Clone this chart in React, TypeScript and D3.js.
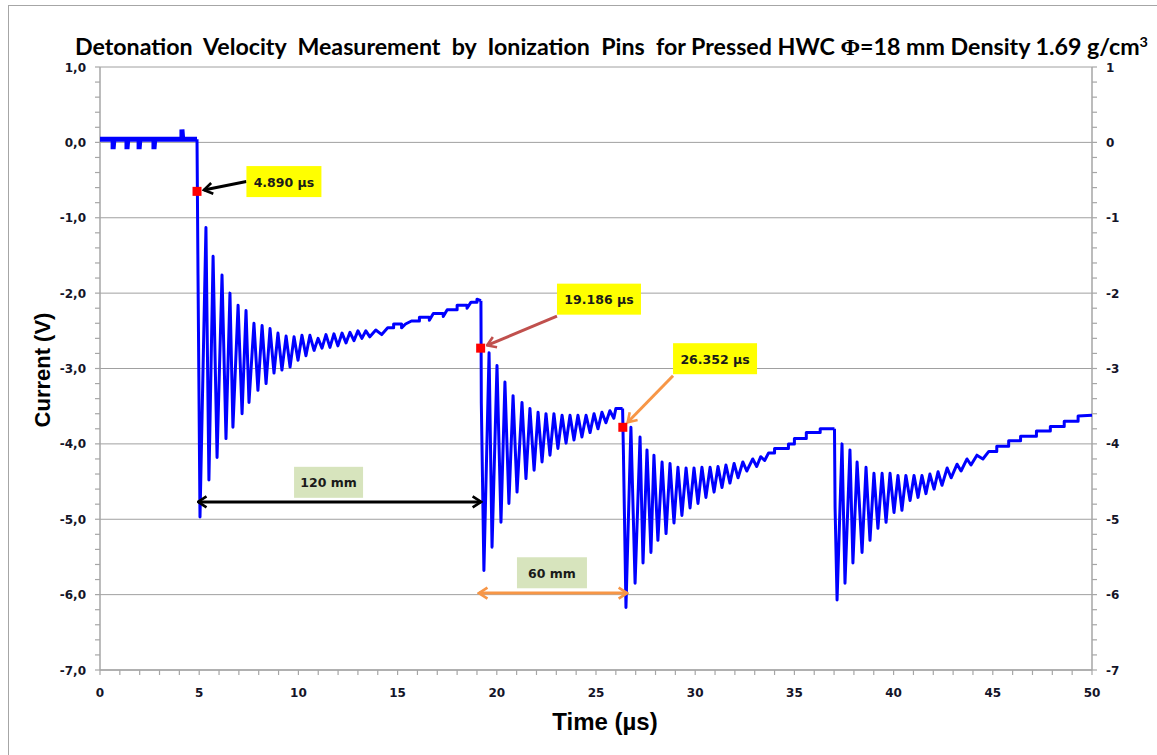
import React from "react";
import * as d3 from "d3";

// ---------- data ----------
const xTickValues = [0, 5, 10, 15, 20, 25, 30, 35, 40, 45, 50];
const yTickValues = [1, 0, -1, -2, -3, -4, -5, -6, -7];
const yTickLabelsLeft = ["1,0", "0,0", "-1,0", "-2,0", "-3,0", "-4,0", "-5,0", "-6,0", "-7,0"];
const yTickLabelsRight = ["1", "0", "-1", "-2", "-3", "-4", "-5", "-6", "-7"];

// [time (µs), current (V)]
const baseline: [number, number][] = [
  [0, 0.04], [0.66, 0.04], [0.66, -0.09], [0.7, 0.04], [1.36, 0.04], [1.36, -0.09], [1.4, 0.04],
  [1.97, 0.04], [1.97, -0.09], [2.01, 0.04], [2.72, 0.04], [2.72, -0.09], [2.76, 0.04],
  [4.13, 0.04], [4.13, 0.17], [4.17, 0.04], [4.89, 0.04],
];

const pulse1: [number, number][] = [
  [4.89, 0.04], [4.94, -1.76], [5.04, -4.97], [5.34, -1.13], [5.49, -4.48], [5.7, -1.51], [5.9, -4.18],
  [6.15, -1.76], [6.35, -3.93], [6.55, -2.0], [6.7, -3.78], [6.96, -2.16], [7.16, -3.6], [7.36, -2.23],
  [7.51, -3.45], [7.76, -2.4], [7.96, -3.29], [8.17, -2.43], [8.37, -3.2], [8.57, -2.47], [8.77, -3.06],
  [8.97, -2.53], [9.17, -3.02], [9.38, -2.57], [9.58, -2.98], [9.78, -2.58], [9.98, -2.89], [10.18, -2.56],
  [10.38, -2.83], [10.58, -2.56], [10.79, -2.76], [10.99, -2.6], [11.19, -2.73], [11.39, -2.55],
  [11.59, -2.72], [11.79, -2.54], [11.99, -2.7], [12.2, -2.53], [12.4, -2.66], [12.6, -2.52],
  [12.8, -2.63], [13.0, -2.5], [13.2, -2.6], [13.4, -2.5], [13.6, -2.58], [13.9, -2.49], [14.2, -2.55],
  [14.5, -2.46], [14.8, -2.46], [14.8, -2.41], [15.2, -2.41], [15.2, -2.46], [15.4, -2.41], [15.7, -2.37],
  [16.1, -2.37], [16.1, -2.32], [16.6, -2.32], [16.6, -2.36], [16.8, -2.27], [17.3, -2.27], [17.3, -2.31],
  [17.5, -2.22], [18.0, -2.22], [18.0, -2.16], [18.5, -2.16], [18.5, -2.2], [18.7, -2.12], [19.0, -2.12],
  [19.0, -2.08], [19.2, -2.1],
];

const pulse2: [number, number][] = [
  [19.2, -2.1], [19.22, -3.46], [19.35, -5.68], [19.61, -2.79], [19.76, -5.37], [20.01, -2.96],
  [20.21, -5.04], [20.41, -3.18], [20.61, -4.79], [20.82, -3.36], [21.02, -4.64], [21.27, -3.45],
  [21.47, -4.46], [21.67, -3.53], [21.88, -4.35], [22.08, -3.58], [22.28, -4.24], [22.48, -3.6],
  [22.68, -4.15], [22.88, -3.6], [23.08, -4.06], [23.29, -3.62], [23.49, -3.99], [23.69, -3.62],
  [23.89, -3.95], [24.09, -3.62], [24.29, -3.91], [24.5, -3.62], [24.7, -3.85], [24.9, -3.6],
  [25.1, -3.8], [25.3, -3.58], [25.5, -3.72], [25.7, -3.56], [25.9, -3.66], [26.0, -3.53], [26.34, -3.53],
];

const pulse3: [number, number][] = [
  [26.34, -3.53], [26.38, -4.08], [26.51, -6.17], [26.76, -3.78], [26.97, -5.85], [27.22, -3.91],
  [27.37, -5.58], [27.57, -4.08], [27.77, -5.44], [27.92, -4.15], [28.12, -5.28], [28.33, -4.24],
  [28.53, -5.19], [28.73, -4.26], [28.93, -5.05], [29.13, -4.31], [29.33, -4.95], [29.54, -4.32],
  [29.74, -4.85], [29.94, -4.32], [30.14, -4.79], [30.34, -4.31], [30.54, -4.71], [30.75, -4.31],
  [30.95, -4.64], [31.15, -4.3], [31.35, -4.58], [31.55, -4.28], [31.75, -4.52], [31.96, -4.26],
  [32.16, -4.45], [32.4, -4.24], [32.6, -4.36], [32.9, -4.2], [33.1, -4.3], [33.3, -4.17], [33.5, -4.22],
  [33.7, -4.12], [34.0, -4.12], [34.0, -4.06], [34.7, -4.06], [34.7, -4.0], [35.0, -4.0], [35.0, -3.93],
  [35.6, -3.93], [35.6, -3.85], [36.3, -3.85], [36.3, -3.8], [37.02, -3.8],
];

const pulse4: [number, number][] = [
  [37.02, -3.8], [37.05, -4.84], [37.15, -6.07], [37.4, -4.0], [37.55, -5.85], [37.8, -4.08],
  [37.95, -5.58], [38.16, -4.24], [38.41, -5.44], [38.61, -4.31], [38.81, -5.28], [39.01, -4.39],
  [39.21, -5.12], [39.42, -4.39], [39.62, -5.04], [39.82, -4.39], [40.02, -4.91], [40.22, -4.42],
  [40.42, -4.88], [40.62, -4.42], [40.83, -4.75], [41.03, -4.42], [41.23, -4.71], [41.43, -4.42],
  [41.63, -4.66], [41.83, -4.4], [42.04, -4.6], [42.24, -4.37], [42.44, -4.55], [42.7, -4.32],
  [42.9, -4.45], [43.2, -4.27], [43.4, -4.36], [43.7, -4.2], [43.9, -4.28], [44.2, -4.15], [44.5, -4.2],
  [44.8, -4.1], [45.2, -4.1], [45.2, -4.03], [45.8, -4.03], [45.8, -3.96], [46.4, -3.96], [46.4, -3.9],
  [47.2, -3.9], [47.2, -3.83], [47.9, -3.83], [47.9, -3.77], [48.6, -3.77], [48.6, -3.7], [49.3, -3.7],
  [49.3, -3.63], [50, -3.62],
];

const markerTimes = [4.89, 19.186, 26.352];
const markerValues = [-0.65, -2.73, -3.78];
const markerLabels = ["4.890 µs", "19.186 µs", "26.352 µs"];
const labelTimes = [9.27, 25.15, 31.0];
const labelValues = [-0.52, -2.08, -2.87];

const distLabels = ["120 mm", "60 mm"];
const distFrom = [4.94, 19.1];
const distTo = [19.21, 26.57];
const distValues = [-4.77, -5.98];
const distLabelTimes = [11.52, 22.78];
const distLabelValues = [-4.51, -5.71];

// ---------- styles ----------
const W = 1157;
const H = 755;
const plot = { left: 100, right: 1092, top: 67, bottom: 670 };
const calloutColors = ["#000000", "#c0504d", "#f79646"];
const calloutBoxW = [75, 84, 84];
const calloutAnchorFy = [0.5, 1.05, 1.05];
const distColors = ["#000000", "#f79646"];
const distBoxW = [69, 70];
const boxH = 31;
const gridColor = "#a0a0a0";
const axisColor = "#a6a6a6";
const textColor = "#141428";
const tickFont = "'DejaVu Sans', Verdana, sans-serif";

export default function App() {
  const x = d3.scaleLinear().domain([0, 50]).range([plot.left, plot.right]);
  const y = d3.scaleLinear().domain([-7, 1]).range([plot.bottom, plot.top]);
  const line = d3
    .line<[number, number]>()
    .x((d) => x(d[0]))
    .y((d) => y(d[1]));

  const yMinor = d3.range(-7, 1.0001, 0.2);
  const xMinor = d3.range(0, 50.0001, 1);

  const markerIds = ["ah0", "ah1", "ah2"];
  const colorsAll = ["#000000", "#c0504d", "#f79646"];

  return (
    <svg
      width={W}
      height={H}
      style={{ position: "absolute", left: 0, top: 0, background: "#fff" }}
    >
      <defs>
        {colorsAll.map((c, i) => (
          <marker
            key={i}
            id={markerIds[i]}
            viewBox="0 0 12 14"
            refX={10.5}
            refY={7}
            markerWidth={12}
            markerHeight={14}
            markerUnits="userSpaceOnUse"
            orient="auto-start-reverse"
          >
            <path d="M2,1.5 L10.5,7 L2,12.5" fill="none" stroke={c} strokeWidth={2.6} />
          </marker>
        ))}
      </defs>
      <rect x={8.5} y={5.5} width={1200} height={800} fill="#fff" stroke="#a6a6a6" strokeWidth={1} />

      {/* title */}
      <text
        x={611.5}
        y={55}
        textAnchor="middle"
        xmlSpace="preserve"
        textLength={1073}
        lengthAdjust="spacingAndGlyphs"
        style={{ whiteSpace: "pre", fontFamily: "Lato, 'Open Sans', sans-serif", fontWeight: 700, fontSize: 22.5, fill: "#000" }}
      >
        {"Detonation  Velocity  Measurement  by  Ionization  Pins  for Pressed HWC "}
        <tspan style={{ fontFamily: "'Liberation Serif', 'DejaVu Serif', serif", fontWeight: 700, fontSize: 23 }}>Φ</tspan>
        {"=18 mm Density 1.69 g/cm"}
        <tspan dy={-8} style={{ fontSize: 14 }}>3</tspan>
      </text>

      {/* gridlines */}
      {yTickValues.map((v) => (
        <line key={"g" + v} x1={plot.left} x2={plot.right} y1={y(v)} y2={y(v)} stroke={gridColor} strokeWidth={1} />
      ))}

      {/* axes */}
      <line x1={plot.left} x2={plot.left} y1={plot.top} y2={plot.bottom} stroke={axisColor} strokeWidth={1.5} />
      <line x1={plot.right} x2={plot.right} y1={plot.top} y2={plot.bottom} stroke={axisColor} strokeWidth={1.5} />
      <line x1={plot.left} x2={plot.right} y1={plot.bottom} y2={plot.bottom} stroke={axisColor} strokeWidth={1.5} />
      {yMinor.map((v, i) => (
        <g key={"ym" + i}>
          <line x1={plot.left - 5} x2={plot.left} y1={y(v)} y2={y(v)} stroke={axisColor} strokeWidth={1.2} />
          <line x1={plot.right} x2={plot.right + 5} y1={y(v)} y2={y(v)} stroke={axisColor} strokeWidth={1.2} />
        </g>
      ))}
      {xMinor.map((t, i) => (
        <line key={"xm" + i} x1={x(t)} x2={x(t)} y1={plot.bottom} y2={plot.bottom + 5} stroke={axisColor} strokeWidth={1.2} />
      ))}

      {/* tick labels */}
      {yTickValues.map((v, i) => (
        <text key={"yl" + i} x={86} y={y(v) + 4.5} textAnchor="end"
          style={{ fontFamily: tickFont, fontWeight: 700, fontSize: 12, fill: textColor }}>
          {yTickLabelsLeft[i]}
        </text>
      ))}
      {yTickValues.map((v, i) => (
        <text key={"yr" + i} x={1106} y={y(v) + 4.5} textAnchor="start"
          style={{ fontFamily: tickFont, fontWeight: 700, fontSize: 12, fill: textColor }}>
          {yTickLabelsRight[i]}
        </text>
      ))}
      {xTickValues.map((t) => (
        <text key={"xl" + t} x={x(t)} y={697} textAnchor="middle"
          style={{ fontFamily: tickFont, fontWeight: 700, fontSize: 12, fill: textColor }}>
          {String(t)}
        </text>
      ))}

      {/* axis titles */}
      <text transform="translate(50,370) rotate(-90)" textAnchor="middle"
        style={{ fontFamily: "'Liberation Sans', Arial, sans-serif", fontWeight: 700, fontSize: 22, fill: "#000" }}>
        Current (V)
      </text>
      <text x={605} y={730} textAnchor="middle"
        style={{ fontFamily: "'Liberation Sans', Arial, sans-serif", fontWeight: 700, fontSize: 24, fill: "#000" }}>
        Time (µs)
      </text>

      {/* signal */}
      <path d={line(baseline) || ""} fill="none" stroke="#0000ff" strokeWidth={5} strokeLinejoin="miter" />
      {[pulse1, pulse2, pulse3, pulse4].map((p, i) => (
        <path key={"p" + i} d={line(p) || ""} fill="none" stroke="#0000ff" strokeWidth={3} strokeLinejoin="round" />
      ))}

      {/* distance arrows */}
      {distLabels.map((lab, i) => {
        const cx = x(distLabelTimes[i]);
        const cy = y(distLabelValues[i]);
        const w = distBoxW[i];
        return (
          <g key={"d" + i}>
            <line
              x1={x(distFrom[i])}
              x2={x(distTo[i])}
              y1={y(distValues[i])}
              y2={y(distValues[i])}
              stroke={distColors[i]}
              strokeWidth={3}
              markerStart={`url(#${markerIds[i === 0 ? 0 : 2]})`}
              markerEnd={`url(#${markerIds[i === 0 ? 0 : 2]})`}
            />
            <rect x={cx - w / 2} y={cy - boxH / 2} width={w} height={boxH} fill="#d7e4bd" />
            <text x={cx} y={cy + 5} textAnchor="middle"
              style={{ fontFamily: tickFont, fontWeight: 700, fontSize: 12.5, fill: "#1a1a1a" }}>
              {lab}
            </text>
          </g>
        );
      })}

      {/* callouts */}
      {markerLabels.map((lab, i) => {
        const mx = x(markerTimes[i]);
        const my = y(markerValues[i]);
        const cx = x(labelTimes[i]);
        const cy = y(labelValues[i]);
        const w = calloutBoxW[i];
        const bx = cx - w / 2;
        const by = cy - boxH / 2;
        const sx = bx;
        const sy = by + boxH * calloutAnchorFy[i];
        const dx = sx - mx;
        const dy = sy - my;
        const len = Math.sqrt(dx * dx + dy * dy);
        const ex = mx + (dx / len) * 7;
        const ey = my + (dy / len) * 7;
        return (
          <g key={"c" + i}>
            <line x1={sx} y1={sy} x2={ex} y2={ey} stroke={calloutColors[i]} strokeWidth={3}
              markerEnd={`url(#${markerIds[i]})`} />
            <rect x={bx} y={by} width={w} height={boxH} fill="#ffff00" />
            <text x={cx} y={cy + 5} textAnchor="middle"
              style={{ fontFamily: tickFont, fontWeight: 700, fontSize: 12.5, fill: "#1a1a1a" }}>
              {lab}
            </text>
          </g>
        );
      })}

      {/* red markers */}
      {markerTimes.map((t, i) => (
        <rect key={"m" + i} x={x(t) - 4.5} y={y(markerValues[i]) - 4.5} width={9} height={9} fill="#ff0000" />
      ))}
    </svg>
  );
}
